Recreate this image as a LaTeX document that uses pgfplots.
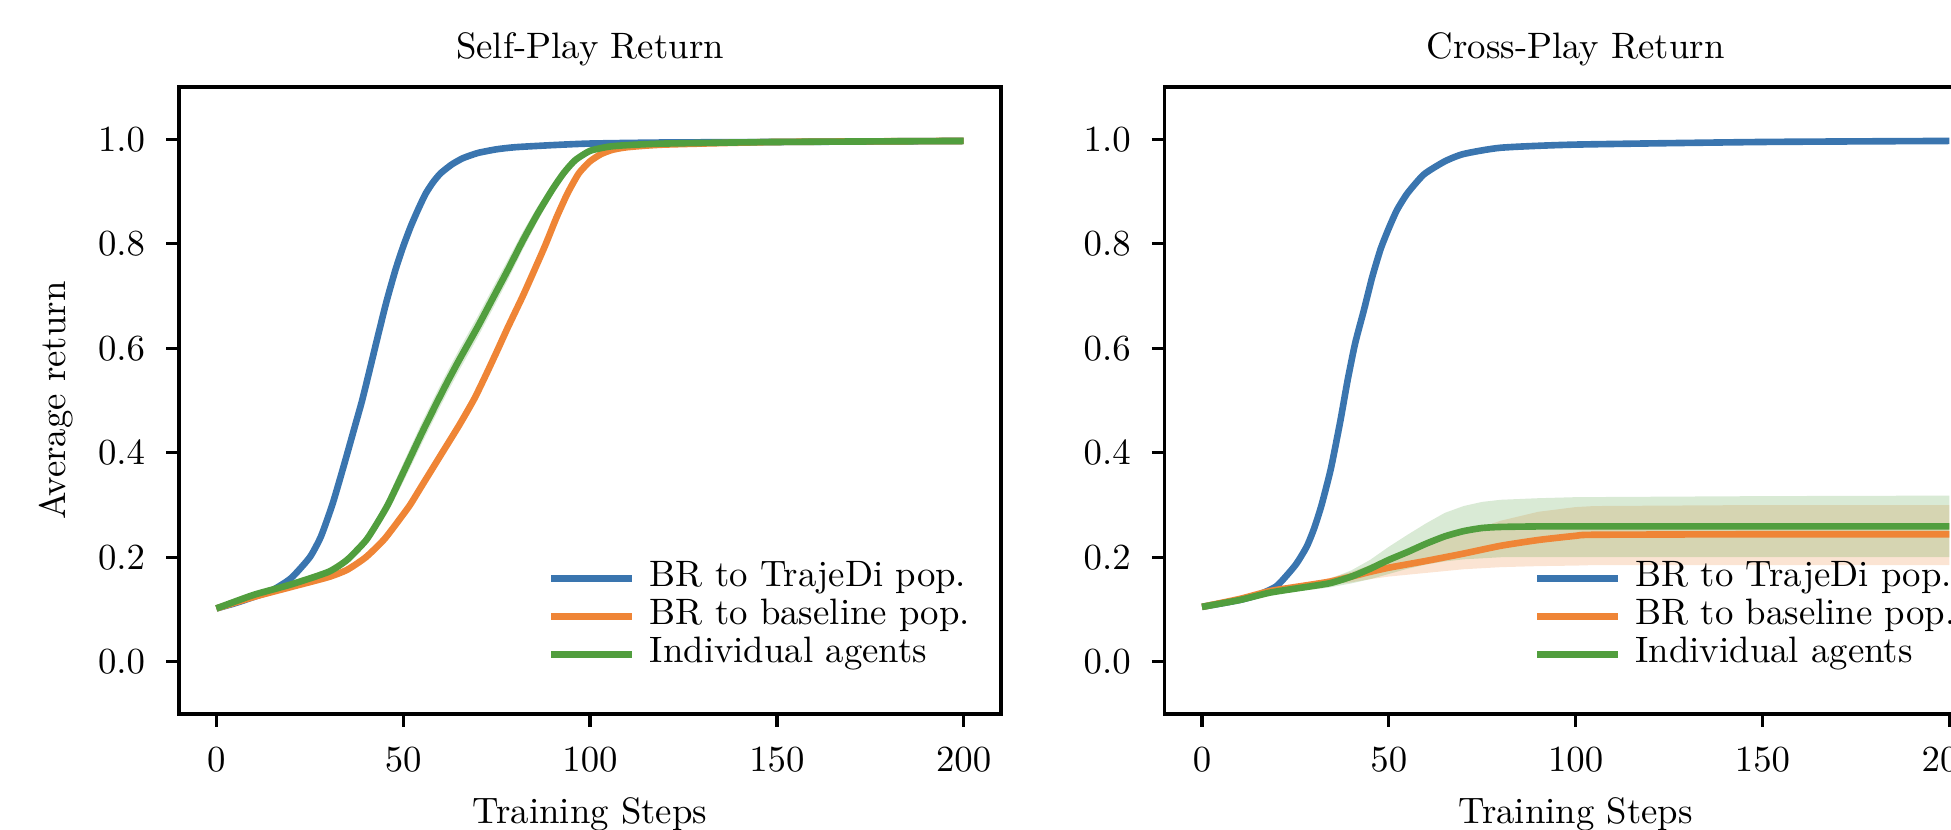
\documentclass[border=0pt]{standalone}
\usepackage{pgfplots}
\usepackage{pgfplotstable}
\pgfplotsset{compat=1.18}
\usepgfplotslibrary{fillbetween}
\definecolor{cb}{RGB}{58,117,175}
\definecolor{co}{RGB}{239,133,54}
\definecolor{cg}{RGB}{81,158,62}

% ---------- Self-play data ----------
\pgfplotstableread{
x y
0 0.102
5 0.112
10 0.124
15 0.137
20 0.160
25 0.200
28 0.240
31 0.300
33 0.348
35 0.398
37 0.449
39 0.500
41 0.558
43 0.617
45 0.675
46 0.702
48 0.752
50 0.795
52 0.833
54 0.866
56 0.896
58 0.918
60 0.935
63 0.952
66 0.964
70 0.974
75 0.981
80 0.985
90 0.989
100 0.992
120 0.994
150 0.995
200 0.997
}\SPblue
\pgfplotstableread{
x y lo hi
0 0.102 0.100 0.104
10 0.124 0.121 0.127
20 0.143 0.140 0.146
30 0.162 0.158 0.166
35 0.176 0.171 0.181
40 0.200 0.194 0.206
45 0.235 0.228 0.242
50 0.282 0.274 0.290
52 0.302 0.294 0.310
55 0.337 0.329 0.345
60 0.395 0.387 0.403
65 0.453 0.445 0.461
69 0.503 0.495 0.511
72 0.547 0.539 0.555
75 0.593 0.585 0.601
78 0.640 0.632 0.648
82 0.700 0.692 0.708
85 0.748 0.740 0.756
88 0.797 0.789 0.805
91 0.850 0.842 0.858
94 0.897 0.890 0.904
97 0.935 0.929 0.941
100 0.958 0.953 0.963
103 0.972 0.969 0.975
106 0.980 0.978 0.982
110 0.985 0.983 0.987
120 0.990 0.989 0.991
150 0.995 0.994 0.996
200 0.997 0.996 0.998
}\SPorange
\pgfplotstableread{
x y lo hi
0 0.102 0.100 0.104
10 0.128 0.125 0.131
20 0.148 0.145 0.151
30 0.172 0.168 0.176
35 0.195 0.189 0.201
40 0.232 0.224 0.240
43 0.265 0.255 0.275
46 0.302 0.288 0.316
50 0.362 0.344 0.380
55 0.438 0.418 0.458
59 0.496 0.476 0.516
62 0.538 0.518 0.558
65 0.578 0.558 0.598
70 0.642 0.622 0.662
74 0.696 0.676 0.716
78 0.750 0.731 0.769
82 0.806 0.789 0.823
86 0.858 0.844 0.872
90 0.905 0.895 0.915
93 0.936 0.929 0.943
96 0.960 0.955 0.965
100 0.978 0.975 0.981
105 0.986 0.984 0.988
110 0.989 0.988 0.990
120 0.992 0.991 0.993
150 0.995 0.994 0.996
200 0.997 0.996 0.998
}\SPgreen

% ---------- Cross-play data ----------
\pgfplotstableread{
x y
0 0.105
10 0.118
15 0.128
20 0.145
25 0.185
28 0.220
30 0.255
32 0.300
34.5 0.370
37 0.460
39 0.540
41 0.610
43.4 0.675
45.5 0.735
47.8 0.790
50 0.830
52.2 0.865
55 0.897
59.4 0.933
65 0.958
70 0.972
80 0.984
100 0.990
150 0.995
200 0.997
}\CPblue
\pgfplotstableread{
x y lo hi
0 0.105 0.103 0.107
10 0.120 0.118 0.122
18 0.135 0.132 0.138
25 0.143 0.139 0.147
34 0.153 0.147 0.160
40 0.163 0.152 0.172
45 0.172 0.158 0.185
50 0.180 0.163 0.198
60 0.193 0.170 0.222
70 0.207 0.177 0.246
80 0.222 0.181 0.270
90 0.233 0.183 0.287
100 0.241 0.184 0.296
105 0.243 0.185 0.298
150 0.244 0.185 0.300
200 0.244 0.185 0.300
}\CPorange
\pgfplotstableread{
x y lo hi
0 0.105 0.103 0.107
10 0.118 0.116 0.121
18 0.132 0.128 0.136
25 0.140 0.134 0.146
34 0.150 0.142 0.158
40 0.163 0.150 0.175
45 0.178 0.158 0.195
50 0.195 0.168 0.220
55 0.210 0.178 0.243
60 0.226 0.186 0.265
65 0.240 0.192 0.285
70 0.250 0.196 0.298
75 0.256 0.198 0.306
80 0.258 0.200 0.310
90 0.259 0.200 0.313
100 0.259 0.200 0.315
150 0.259 0.200 0.317
200 0.259 0.200 0.318
}\CPgreen

\pgfplotsset{
  myax/.style={
    scale only axis, width=223.6pt, height=170.5pt,
    xmin=-10, xmax=210, ymin=-0.1, ymax=1.1,
    xtick={0,50,100,150,200}, ytick={0,0.2,0.4,0.6,0.8,1},
    yticklabel style={xshift=-2.2pt,/pgf/number format/.cd,fixed,fixed zerofill,precision=1},
    xticklabel style={yshift=-2.3pt},
    axis line style={line width=0.9pt},
    every tick/.style={line width=0.9pt, black},
    major tick length=3.5pt,
    tick align=outside,
    xtick pos=bottom, ytick pos=left,
    xlabel={Training Steps},
    title style={yshift=-3.9pt},
    legend style={draw=none, fill=none, at={(0.966,0.065)}, anchor=south east,
      inner sep=0pt, outer sep=0pt, row sep=0pt, column sep=3pt,
      nodes={inner sep=0.9pt, text height=6.5pt, text depth=2pt}},
    legend cell align=left,
    legend image code/.code={\draw[#1] (0pt,0pt) -- (22pt,0pt);},
    every axis plot/.append style={line width=1.8pt, line join=round},
  },
  ln/.style={smooth, tension=0.35}
}

\begin{document}
\begin{tikzpicture}
\begin{axis}[myax, at={(0pt,0pt)}, anchor=south west,
  title={Self-Play Return}, ylabel={Average return}]
  \addplot[draw=none, forget plot, name path=ua] table[x=x,y=hi] {\SPorange};
  \addplot[draw=none, forget plot, name path=la] table[x=x,y=lo] {\SPorange};
  \addplot[fill=co, fill opacity=0.22, draw=none, forget plot] fill between[of=ua and la];
  \addplot[draw=none, forget plot, name path=ub] table[x=x,y=hi] {\SPgreen};
  \addplot[draw=none, forget plot, name path=lb] table[x=x,y=lo] {\SPgreen};
  \addplot[fill=cg, fill opacity=0.22, draw=none, forget plot] fill between[of=ub and lb];
  \addplot[cb, ln] table[x=x,y=y] {\SPblue};
  \addlegendentry{BR to TrajeDi pop.}
  \addplot[co, ln] table[x=x,y=y] {\SPorange};
  \addlegendentry{BR to baseline pop.}
  \addplot[cg, ln] table[x=x,y=y] {\SPgreen};
  \addlegendentry{Individual agents}
\end{axis}
\begin{axis}[myax, at={(268.1pt,0pt)}, anchor=south west,
  title={Cross-Play Return}]
  \addplot[draw=none, forget plot, name path=uc] table[x=x,y=hi] {\CPorange};
  \addplot[draw=none, forget plot, name path=lc] table[x=x,y=lo] {\CPorange};
  \addplot[fill=co, fill opacity=0.22, draw=none, forget plot] fill between[of=uc and lc];
  \addplot[draw=none, forget plot, name path=ud] table[x=x,y=hi] {\CPgreen};
  \addplot[draw=none, forget plot, name path=ld] table[x=x,y=lo] {\CPgreen};
  \addplot[fill=cg, fill opacity=0.22, draw=none, forget plot] fill between[of=ud and ld];
  \addplot[cb, ln] table[x=x,y=y] {\CPblue};
  \addlegendentry{BR to TrajeDi pop.}
  \addplot[co, ln] table[x=x,y=y] {\CPorange};
  \addlegendentry{BR to baseline pop.}
  \addplot[cg, ln] table[x=x,y=y] {\CPgreen};
  \addlegendentry{Individual agents}
\end{axis}
\pgfresetboundingbox
\path[use as bounding box] (-48.7pt,-31.55pt) rectangle (482pt,194.2pt);
\end{tikzpicture}
\end{document}
